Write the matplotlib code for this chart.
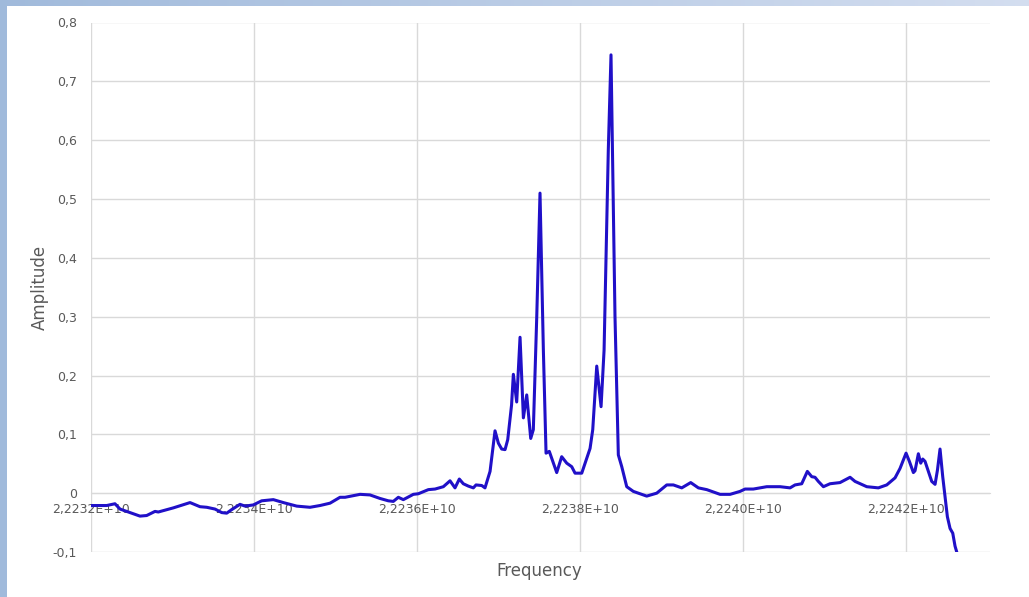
import matplotlib
matplotlib.use("Agg")
import matplotlib.pyplot as plt
import numpy as np
from matplotlib.ticker import FuncFormatter, MultipleLocator

# Frequency in MHz, amplitude
freq_mhz = [
    22232.000, 22232.193, 22232.294, 22232.356, 22232.601, 22232.683, 22232.785,
    22232.826, 22233.010, 22233.215, 22233.337, 22233.420, 22233.521, 22233.604,
    22233.665, 22233.726, 22233.828, 22233.890, 22233.991, 22234.094, 22234.237,
    22234.360, 22234.524, 22234.687, 22234.810, 22234.933, 22235.055, 22235.117,
    22235.301, 22235.423, 22235.546, 22235.648, 22235.709, 22235.771, 22235.832,
    22235.955, 22236.016, 22236.139, 22236.221, 22236.323, 22236.405, 22236.466,
    22236.519, 22236.568, 22236.630, 22236.691, 22236.724, 22236.794, 22236.834,
    22236.896, 22236.929, 22236.957, 22236.998, 22237.039, 22237.080, 22237.113,
    22237.160, 22237.182, 22237.223, 22237.264, 22237.305, 22237.346, 22237.395,
    22237.427, 22237.469, 22237.509, 22237.550, 22237.583, 22237.623, 22237.714,
    22237.775, 22237.837, 22237.898, 22237.939, 22238.021, 22238.123, 22238.156,
    22238.205, 22238.258, 22238.295, 22238.347, 22238.380, 22238.429, 22238.470,
    22238.512, 22238.573, 22238.654, 22238.818, 22238.941, 22239.064, 22239.145,
    22239.248, 22239.358, 22239.452, 22239.555, 22239.718, 22239.841, 22239.963,
    22240.025, 22240.126, 22240.291, 22240.454, 22240.577, 22240.638, 22240.720,
    22240.789, 22240.843, 22240.883, 22240.924, 22240.986, 22241.067, 22241.190,
    22241.313, 22241.374, 22241.518, 22241.660, 22241.763, 22241.865, 22241.926,
    22242.000, 22242.041, 22242.090, 22242.110, 22242.151, 22242.180, 22242.205,
    22242.233, 22242.274, 22242.315, 22242.356, 22242.385, 22242.417, 22242.450,
    22242.479, 22242.507, 22242.540, 22242.573, 22242.601, 22242.622,
]
amplitude = [
    -0.021, -0.021, -0.018, -0.027, -0.039, -0.038, -0.031,
    -0.032, -0.025, -0.016, -0.023, -0.024, -0.027, -0.033,
    -0.034, -0.028, -0.019, -0.022, -0.020, -0.013, -0.011,
    -0.016, -0.022, -0.024, -0.021, -0.017, -0.007, -0.007,
    -0.002, -0.003, -0.009, -0.013, -0.014, -0.007, -0.011,
    -0.002, -0.001, 0.006, 0.007, 0.011, 0.021, 0.009,
    0.024, 0.016, 0.012, 0.009, 0.014, 0.013, 0.009,
    0.037, 0.074, 0.106, 0.085, 0.075, 0.074, 0.091,
    0.150, 0.202, 0.155, 0.265, 0.128, 0.167, 0.093,
    0.108, 0.300, 0.510, 0.244, 0.068, 0.071, 0.035,
    0.062, 0.051, 0.045, 0.034, 0.034, 0.076, 0.108,
    0.216, 0.147, 0.243, 0.584, 0.745, 0.300, 0.065,
    0.045, 0.011, 0.003, -0.005, 0.000, 0.014, 0.014,
    0.009, 0.018, 0.009, 0.006, -0.002, -0.002, 0.003,
    0.007, 0.007, 0.011, 0.011, 0.009, 0.014, 0.016,
    0.037, 0.028, 0.027, 0.020, 0.011, 0.016, 0.018,
    0.027, 0.020, 0.011, 0.009, 0.014, 0.026, 0.042,
    0.068, 0.054, 0.035, 0.038, 0.067, 0.051, 0.058,
    0.054, 0.037, 0.020, 0.015, 0.039, 0.075, 0.028,
    -0.006, -0.040, -0.060, -0.068, -0.090, -0.100,
]

W, H = 1029, 597
fig = plt.figure(figsize=(W / 100, H / 100), dpi=100)

# blue window frame on the left and top edges
bg = fig.add_axes([0, 0, 1, 1], zorder=-5)
frame = np.ones((H, W, 3))
t = np.linspace(0, 1, W)
blue = np.stack([0.63 + 0.2 * t, 0.73 + 0.14 * t, 0.86 + 0.08 * t], axis=1)
frame[:6, :, :] = blue[None, :, :]
frame[:, :7, :] = blue[0]
bg.imshow(frame, aspect="auto", interpolation="nearest")
bg.axis("off")

ax = fig.add_axes([91 / W, 45 / H, 899 / W, 529.5 / H])
freq = np.array(freq_mhz) * 1e6
ax.plot(freq, amplitude, color="#2010c8", linewidth=2.2, zorder=3)

ax.set_xlim(2.2232e10, 2.224303e10)
ax.set_ylim(-0.1, 0.8)
ax.xaxis.set_major_locator(MultipleLocator(2e6))
ax.yaxis.set_major_locator(MultipleLocator(0.1))

ax.xaxis.set_major_formatter(FuncFormatter(lambda v, p: f"{v:.4E}".replace(".", ",")))
ax.yaxis.set_major_formatter(FuncFormatter(lambda v, p: f"{v:.1f}".replace(".", ",").replace("-0,0", "0").replace("0,0", "0")))

ax.grid(True, color="#d9d9d9", linewidth=1.0, zorder=0)
ax.set_axisbelow(True)
for s in ["top", "right", "left"]:
    ax.spines[s].set_visible(False)
ax.spines["bottom"].set_position(("data", 0))
ax.spines["bottom"].set_color("#d9d9d9")
ax.tick_params(axis="both", length=0, labelsize=9, labelcolor="#595959")
ax.tick_params(axis="x", pad=7)
ax.tick_params(axis="y", pad=10)

fig.text(40 / W, 1 - 287 / H, "Amplitude", rotation=90, ha="center", va="center",
         fontsize=12, color="#595959")
fig.text(539 / W, 1 - 571 / H, "Frequency", ha="center", va="center",
         fontsize=12, color="#595959")

fig.savefig("out.png", dpi=100)
